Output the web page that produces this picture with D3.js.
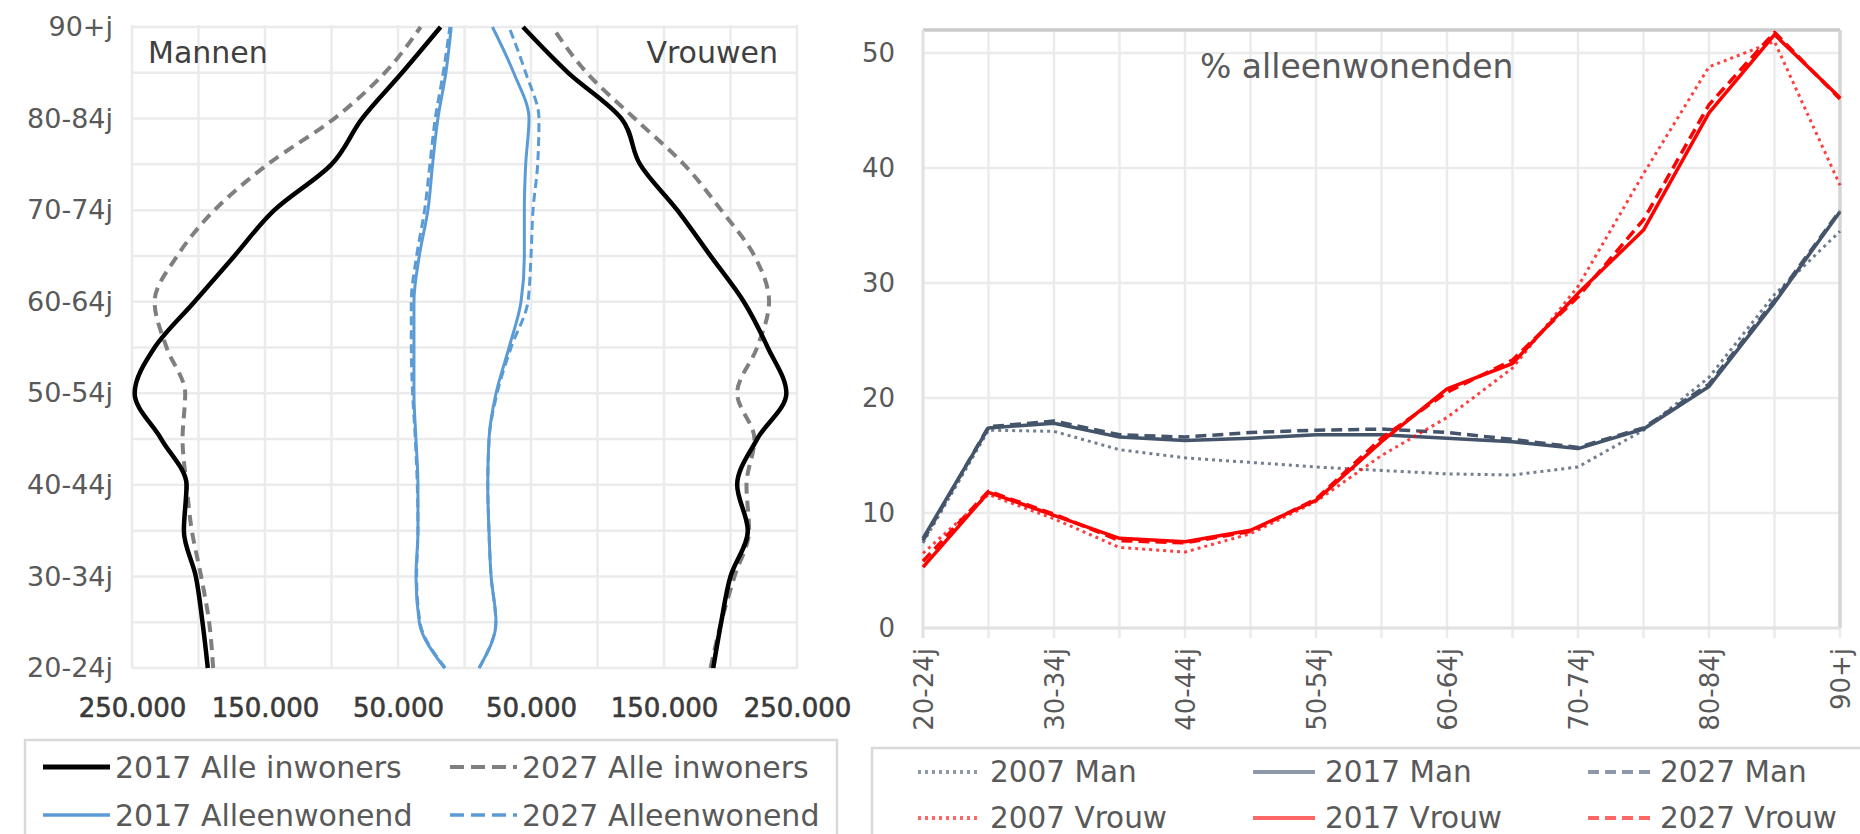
<!DOCTYPE html>
<html>
<head>
<meta charset="utf-8">
<script src="https://cdn.jsdelivr.net/npm/d3@7"></script>
<style>
  body { margin: 0; background: #fff; }
  text { font-family: "DejaVu Sans", sans-serif; fill: #595959; }
</style>
</head>
<body>
<div id="chart"></div>
<script>
// age groups, bottom to top
const ages = ["20-24j","25-29j","30-34j","35-39j","40-44j","45-49j","50-54j","55-59j",
              "60-64j","65-69j","70-74j","75-79j","80-84j","85-89j","90+j"];

// pyramid values (in thousands of persons)
const man2017Alle   = [193, 197, 202, 211, 209, 228, 248, 233, 203, 173, 143, 100, 77, 47, 18];
const man2027Alle   = [189, 192, 198, 205, 209, 212, 210, 224, 233, 216, 188, 148, 98, 60, 33];
const vrouw2017Alle = [187, 193, 200, 213, 205, 220, 242, 228, 210, 185, 160, 132, 118, 78, 44];
const vrouw2027Alle = [185, 193, 203, 214, 212, 218, 205, 220, 229, 218, 193, 165, 128, 92, 66];
const man2017Alleen   = [15, 34, 36.5, 35, 35, 36.5, 38, 38, 38, 34, 27.5, 24, 20, 14, 10];
const man2027Alleen   = [14.5, 33.5, 36, 35, 35.5, 37, 39, 40, 40, 36, 30, 26, 22, 16, 11];
const vrouw2017Alleen = [11, 23.7, 20, 18.4, 17.5, 18.4, 23.7, 33.5, 42.5, 45, 45, 46, 48.5, 37, 21];
const vrouw2027Alleen = [11, 23.5, 20, 18.4, 17.5, 18.5, 24.5, 35, 47.7, 50, 51.5, 55, 56, 46, 33.5];

// % alleenwonenden
const man2007   = [7.4, 17.2, 17.1, 15.5, 14.8, 14.4, 14.0, 13.7, 13.4, 13.3, 14.0, 17.2, 21.8, 29.0, 34.5];
const man2017   = [7.8, 17.4, 17.8, 16.6, 16.3, 16.5, 16.8, 16.8, 16.5, 16.2, 15.6, 17.3, 21.0, 28.3, 36.2];
const man2027   = [7.6, 17.5, 18.0, 16.8, 16.6, 17.0, 17.2, 17.3, 17.0, 16.4, 15.7, 17.4, 21.2, 28.5, 36.3];
const vrouw2007 = [6.5, 11.6, 9.5, 7.0, 6.6, 8.2, 11.0, 15.0, 18.3, 22.6, 29.7, 39.5, 48.8, 51.0, 38.5];
const vrouw2017 = [5.3, 11.8, 9.8, 7.8, 7.5, 8.5, 11.1, 16.2, 20.8, 23.0, 29.1, 34.6, 44.8, 51.6, 46.1];
const vrouw2027 = [5.8, 11.9, 9.9, 7.6, 7.4, 8.4, 11.2, 16.5, 20.5, 23.3, 28.8, 35.5, 45.5, 51.8, 46.0];

const xTicksL = [-250000, -150000, -50000, 50000, 150000, 250000];
const yTicksR = [0, 10, 20, 30, 40, 50];

const width = 1860, height = 834;
const grid = "#ebebeb";

const svg = d3.select("#chart").append("svg")
  .attr("width", width).attr("height", height);

const nl = d3.formatLocale({decimal: ",", thousands: ".", grouping: [3], currency: ["", ""]});
const fmt = nl.format(",d");

/*
* left: bevolkingspiramide
*/
const xL = d3.scaleLinear().domain([-250000, 250000]).range([132, 797]);
const yL = d3.scalePoint().domain(ages).range([668, 27]);

const gL = svg.append("g");

// grid
gL.selectAll(".vg").data(d3.range(-250000, 250001, 50000)).enter().append("line")
  .attr("x1", d => xL(d)).attr("x2", d => xL(d))
  .attr("y1", 25).attr("y2", 668)
  .attr("stroke", grid).attr("stroke-width", 2.5);
gL.selectAll(".hg").data(ages).enter().append("line")
  .attr("x1", 132).attr("x2", 797)
  .attr("y1", d => yL(d)).attr("y2", d => yL(d))
  .attr("stroke", grid).attr("stroke-width", 2.5);

// axes
gL.append("g")
  .attr("transform", "translate(132,0)")
  .call(d3.axisLeft(yL).tickValues(ages.filter((d, i) => i % 2 == 0)).tickSize(0).tickPadding(19))
  .call(g => g.select(".domain").remove())
  .selectAll("text").style("font-size", "27px").style("fill", "#595959")
  .style("font-family", "DejaVu Sans");

gL.append("g")
  .attr("transform", "translate(0,668)")
  .call(d3.axisBottom(xL).tickValues(xTicksL).tickSize(0).tickPadding(40).tickFormat(d => fmt(Math.abs(d))))
  .call(g => g.select(".domain").remove())
  .selectAll("text").style("font-size", "26px").style("fill", "#3a3a3a")
  .style("font-family", "DejaVu Sans").attr("dy", "0.35em")
  .style("stroke", "#3a3a3a").style("stroke-width", "0.6px");

gL.append("text").attr("x", 148).attr("y", 52).attr("dominant-baseline", "central")
  .style("font-size", "30px").style("fill", "#404040").text("Mannen");
gL.append("text").attr("x", 778).attr("y", 52).attr("dominant-baseline", "central")
  .attr("text-anchor", "end")
  .style("font-size", "30px").style("fill", "#404040").text("Vrouwen");

const lineL = d3.line().x(d => xL(d[0] * 1000)).y(d => yL(d[1]));

const pyrSeries = [
  {vals: man2017Alleen, sign: -1, color: "#5b9bd5", w: 3, dash: null},
  {vals: man2027Alleen, sign: -1, color: "#5b9bd5", w: 3, dash: "9,5"},
  {vals: vrouw2017Alleen, sign: 1, color: "#5b9bd5", w: 3, dash: null},
  {vals: vrouw2027Alleen, sign: 1, color: "#5b9bd5", w: 3, dash: "9,5"},
  {vals: man2027Alle, sign: -1, color: "#7f7f7f", w: 4, dash: "11,7"},
  {vals: vrouw2027Alle, sign: 1, color: "#7f7f7f", w: 4, dash: "11,7"},
  {vals: man2017Alle, sign: -1, color: "#000000", w: 4.5, dash: null},
  {vals: vrouw2017Alle, sign: 1, color: "#000000", w: 4.5, dash: null}
];

pyrSeries.forEach(s => {
  gL.append("path")
    .datum(s.vals.map((v, i) => [v * s.sign, ages[i]]))
    .attr("fill", "none")
    .attr("stroke", s.color)
    .attr("stroke-width", s.w)
    .attr("stroke-dasharray", s.dash)
    .attr("stroke-linejoin", "round")
    .attr("d", lineL.curve(d3.curveMonotoneY));
});

// legend left
gL.append("rect").attr("x", 25).attr("y", 740).attr("width", 812).attr("height", 110)
  .attr("fill", "none").attr("stroke", "#d9d9d9").attr("stroke-width", 2.5);

const legL = [
  {name: "2017 Alle inwoners", x: 43, y: 767, color: "#000", w: 5, dash: null},
  {name: "2027 Alle inwoners", x: 450, y: 767, color: "#7f7f7f", w: 4, dash: "14,7"},
  {name: "2017 Alleenwonend", x: 43, y: 815, color: "#5b9bd5", w: 3.5, dash: null},
  {name: "2027 Alleenwonend", x: 450, y: 815, color: "#5b9bd5", w: 3.5, dash: "14,7"}
];
legL.forEach(d => {
  gL.append("line").attr("x1", d.x).attr("x2", d.x + 67).attr("y1", d.y).attr("y2", d.y)
    .attr("stroke", d.color).attr("stroke-width", d.w).attr("stroke-dasharray", d.dash);
  gL.append("text").attr("x", d.x + 72).attr("y", d.y).attr("dominant-baseline", "central")
    .style("font-size", "30px").text(d.name);
});

/*
* right: % alleenwonenden
*/
const xR = d3.scalePoint().domain(ages).range([923, 1840]);
const yR = d3.scaleLinear().domain([0, 52]).range([628, 30]);

const gR = svg.append("g");

gR.selectAll(".vg").data(ages).enter().append("line")
  .attr("x1", d => xR(d)).attr("x2", d => xR(d))
  .attr("y1", 30).attr("y2", 638)
  .attr("stroke", grid).attr("stroke-width", 2.5);
gR.selectAll(".hg").data(yTicksR).enter().append("line")
  .attr("x1", 923).attr("x2", 1840)
  .attr("y1", d => yR(d)).attr("y2", d => yR(d))
  .attr("stroke", grid).attr("stroke-width", 2.5);

// frame
gR.append("line").attr("x1", 923).attr("x2", 1840).attr("y1", 30).attr("y2", 30)
  .attr("stroke", "#cbcbcb").attr("stroke-width", 3.5);
gR.append("line").attr("x1", 1840).attr("x2", 1840).attr("y1", 30).attr("y2", 628)
  .attr("stroke", "#d4d4d4").attr("stroke-width", 3.5);
gR.append("line").attr("x1", 923).attr("x2", 923).attr("y1", 30).attr("y2", 638)
  .attr("stroke", "#e2e2e2").attr("stroke-width", 3);
gR.append("line").attr("x1", 923).attr("x2", 1840).attr("y1", 628).attr("y2", 628)
  .attr("stroke", "#e2e2e2").attr("stroke-width", 3);

gR.append("g")
  .attr("transform", "translate(923,0)")
  .call(d3.axisLeft(yR).tickValues(yTicksR).tickSize(0).tickPadding(28))
  .call(g => g.select(".domain").remove())
  .selectAll("text").style("font-size", "26px").style("fill", "#595959")
  .style("font-family", "DejaVu Sans");

gR.append("g")
  .attr("transform", "translate(0,628)")
  .call(d3.axisBottom(xR).tickValues(ages.filter((d, i) => i % 2 == 0)).tickSize(0))
  .call(g => g.select(".domain").remove())
  .selectAll("text")
  .attr("transform", "rotate(-90)")
  .attr("x", -20).attr("y", 0).attr("dy", "0.35em")
  .style("text-anchor", "end")
  .style("font-size", "26px").style("fill", "#595959")
  .style("font-family", "DejaVu Sans");

gR.append("text").attr("x", 1200).attr("y", 66).attr("dominant-baseline", "central")
  .style("font-size", "33px").text("% alleenwonenden");

const lineR = d3.line().x((d, i) => xR(ages[i])).y(d => yR(d));

const pctSeries = [
  {name: "2007 Man", vals: man2007, color: "#44546a", w: 3, dash: "3,4"},
  {name: "2017 Man", vals: man2017, color: "#44546a", w: 3.5, dash: null},
  {name: "2027 Man", vals: man2027, color: "#44546a", w: 3.5, dash: "11,6"},
  {name: "2007 Vrouw", vals: vrouw2007, color: "#ff0000", w: 3, dash: "3,4"},
  {name: "2017 Vrouw", vals: vrouw2017, color: "#ff0000", w: 3.5, dash: null},
  {name: "2027 Vrouw", vals: vrouw2027, color: "#ff0000", w: 3.5, dash: "11,6"}
];

pctSeries.forEach(s => {
  gR.append("path")
    .datum(s.vals)
    .attr("fill", "none")
    .attr("stroke", s.color)
    .attr("stroke-width", s.w)
    .attr("stroke-dasharray", s.dash)
    .attr("stroke-linejoin", "round")
    .attr("stroke-opacity", s.dash == "3,4" ? 0.75 : 1)
    .attr("d", lineR);
});

// legend right
gR.append("rect").attr("x", 872).attr("y", 748).attr("width", 1010).attr("height", 110)
  .attr("fill", "none").attr("stroke", "#d9d9d9").attr("stroke-width", 2.5);

const legX = [918, 1253, 1588];
const legY = [772, 818];
pctSeries.forEach((s, i) => {
  const x = legX[i % 3], y = legY[Math.floor(i / 3)];
  gR.append("line").attr("x1", x).attr("x2", x + 62).attr("y1", y).attr("y2", y)
    .attr("stroke", s.color).attr("stroke-width", 4).attr("stroke-opacity", 0.6)
    .attr("stroke-dasharray", s.dash);
  gR.append("text").attr("x", x + 72).attr("y", y).attr("dominant-baseline", "central")
    .style("font-size", "29.5px").text(s.name);
});
</script>
</body>
</html>
